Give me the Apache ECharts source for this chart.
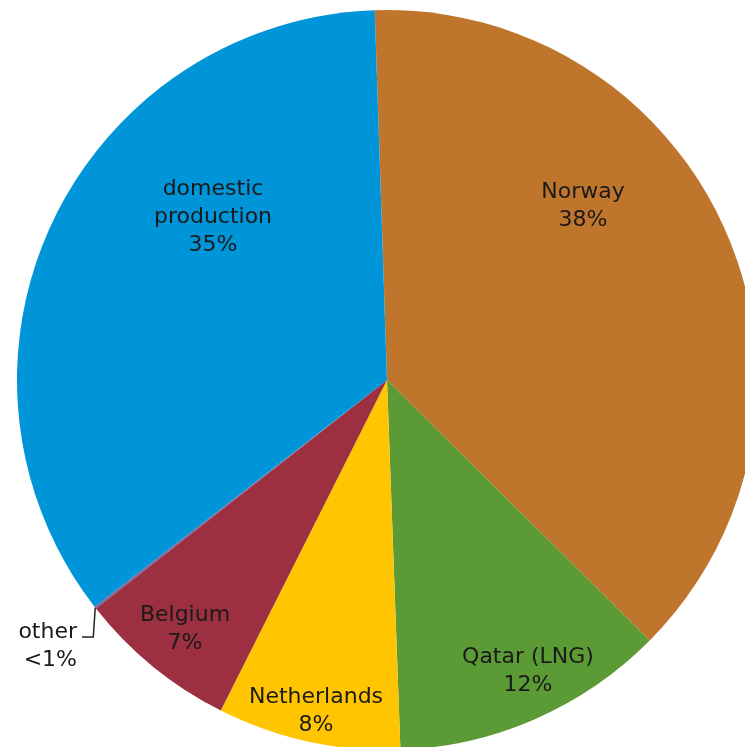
<!DOCTYPE html>
<html>
<head>
<meta charset="utf-8">
<script src="https://cdn.jsdelivr.net/npm/echarts@6/dist/echarts.min.js"></script>
<style>
  html, body { margin: 0; padding: 0; background: #ffffff; }
  #chart { width: 745px; height: 747px; }
</style>
</head>
<body>
<div id="chart"></div>
<script>
// Sources of natural gas supply (share of total, %)
const categories = ['Norway', 'Qatar (LNG)', 'Netherlands', 'Belgium', 'other', 'domestic\nproduction'];
const shares = [38, 12, 8, 7, 0.1, 35];
const sliceColors = ['#C0752D', '#5B9A35', '#FFC501', '#9C3040', '#7E649E', '#0095D8'];

// Label anchor offsets from the pie centre, in px (null = outside label with leader line)
const labelOffsets = [[196, -174], [141, 291], [-71, 331], [-202, 249], null, [-174, -163]];

const CX = 387, CY = 380, R = 370;

const chart = echarts.init(document.getElementById('chart'), null, { renderer: 'canvas' });

const pieData = categories.map((name, i) => {
  const item = {
    name: name,
    value: shares[i],
    itemStyle: { color: sliceColors[i] }
  };
  if (labelOffsets[i] === null) {
    item.label = { position: 'outside', align: 'right' };
    item.labelLine = { show: true, lineStyle: { color: '#222', width: 1.5 } };
  } else {
    item.label = { position: 'inside' };
    item.labelLine = { show: false };
  }
  return item;
});

chart.setOption({
  animation: false,
  backgroundColor: '#ffffff',
  series: [{
    type: 'pie',
    center: [CX, CY],
    radius: [0, R],
    startAngle: 91.9,
    clockwise: true,
    avoidLabelOverlap: false,
    itemStyle: { borderWidth: 0 },
    label: {
      show: true,
      fontFamily: 'DejaVu Sans',
      fontSize: 22,
      lineHeight: 28,
      color: '#1a1a1a',
      align: 'center',
      formatter: p => p.name + '\n' + (p.value < 1 ? '<1%' : p.value + '%')
    },
    emphasis: { disabled: true },
    labelLayout: function (params) {
      const off = labelOffsets[params.dataIndex];
      if (off) {
        return { x: CX + off[0], y: CY + off[1], align: 'center', verticalAlign: 'middle' };
      }
      const rim = params.labelLinePoints ? params.labelLinePoints[0] : [CX - 291, CY + 222];
      const elbowY = CY + 257;
      return {
        x: CX - 310,
        y: CY + 266,
        align: 'right',
        verticalAlign: 'middle',
        labelLinePoints: [[rim[0], rim[1]], [rim[0] - 2, elbowY], [CX - 305, elbowY]]
      };
    },
    data: pieData
  }]
});
</script>
</body>
</html>
